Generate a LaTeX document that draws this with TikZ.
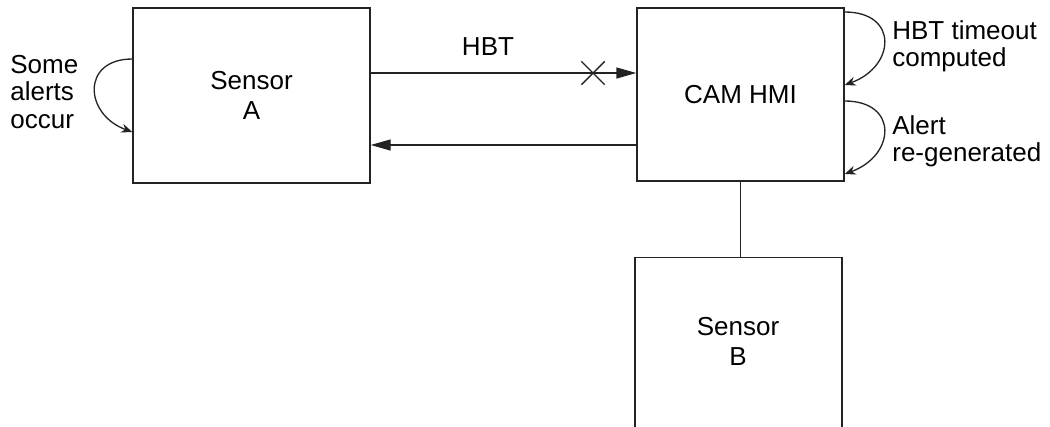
\documentclass[tikz,border=0pt]{standalone}
\usepackage{fontspec}
\setmainfont{Liberation Sans}
\usetikzlibrary{arrows.meta, positioning, shapes.misc, calc}
\definecolor{hbtline}{RGB}{35, 35, 35}
\tikzset{
  unit/.style={rectangle, draw=hbtline, line width=0.8pt, minimum width=#1,
               align=center, font=\fontsize{14.8pt}{17pt}\selectfont},
  unit/.default=4.14cm,
  unitlbl/.style={align=center, inner sep=0pt, font=\fontsize{14.8pt}{17pt}\selectfont},
  flow/.style={-{Triangle[length=4mm, width=2.2mm]}, line width=0.8pt, color=hbtline},
  selfloop/.style={-{Stealth[length=2.2mm, width=1.8mm]}, line width=0.75pt, color=hbtline},
  note/.style={inner sep=0pt, align=left, font=\fontsize{14.8pt}{15.4pt}\selectfont},
}

\begin{document}
\begin{tikzpicture}
  \useasboundingbox (0,0) rectangle (21,-8.54);
  \clip (0,0) rectangle (21,-8.54);

  \node[unit=4.74cm, minimum height=3.5cm] (senA) at (5.03,-1.91) {Sensor\\A};
  \node[unit, minimum height=3.46cm] (cam) at (14.81,-1.89) {CAM HMI};
  \node[unit, minimum height=4cm, anchor=north] (senB) at (14.77,-5.14) {};
  \node[unitlbl] (senBlbl) at (14.76,-6.82) {Sensor\\B};

  % heartbeat and the way back
  \coordinate (hbtrow) at (0,-1.46);
  \coordinate (backrow) at (0,-2.90);
  \draw[flow] (senA.east |- hbtrow) -- (cam.west |- hbtrow);
  \draw[flow] (cam.west |- backrow) -- (senA.east |- backrow);
  \node[draw=hbtline, cross out, line width=0.8pt, minimum size=0.44cm, inner sep=0pt] (lost) at (11.86,-1.46) {};
  \node[note] (hbtlbl) at (9.76,-0.93) {HBT};

  \draw[line width=0.8pt, hbtline] (cam.south) -- (cam.south |- senB.north);

  % self loops
  \draw[selfloop] (senA.west |- 0,-1.18) to[out=180, in=160, looseness=1.8] (senA.west |- 0,-2.64);
  \draw[selfloop] (cam.east |- 0,-0.24) to[out=0, in=20, looseness=1.9] (cam.east |- 0,-1.70);
  \draw[selfloop] (cam.east |- 0,-2.02) to[out=0, in=20, looseness=1.9] (cam.east |- 0,-3.48);

  \node[note, anchor=west] (occur) at (0.2,-1.84) {Some\\alerts\\occur};
  \node[note, anchor=west] (timeout) at (17.84,-0.92) {HBT timeout\\computed};
  \node[note, anchor=west] (regen) at (17.84,-2.82) {Alert\\re-generated};
\end{tikzpicture}
\end{document}
